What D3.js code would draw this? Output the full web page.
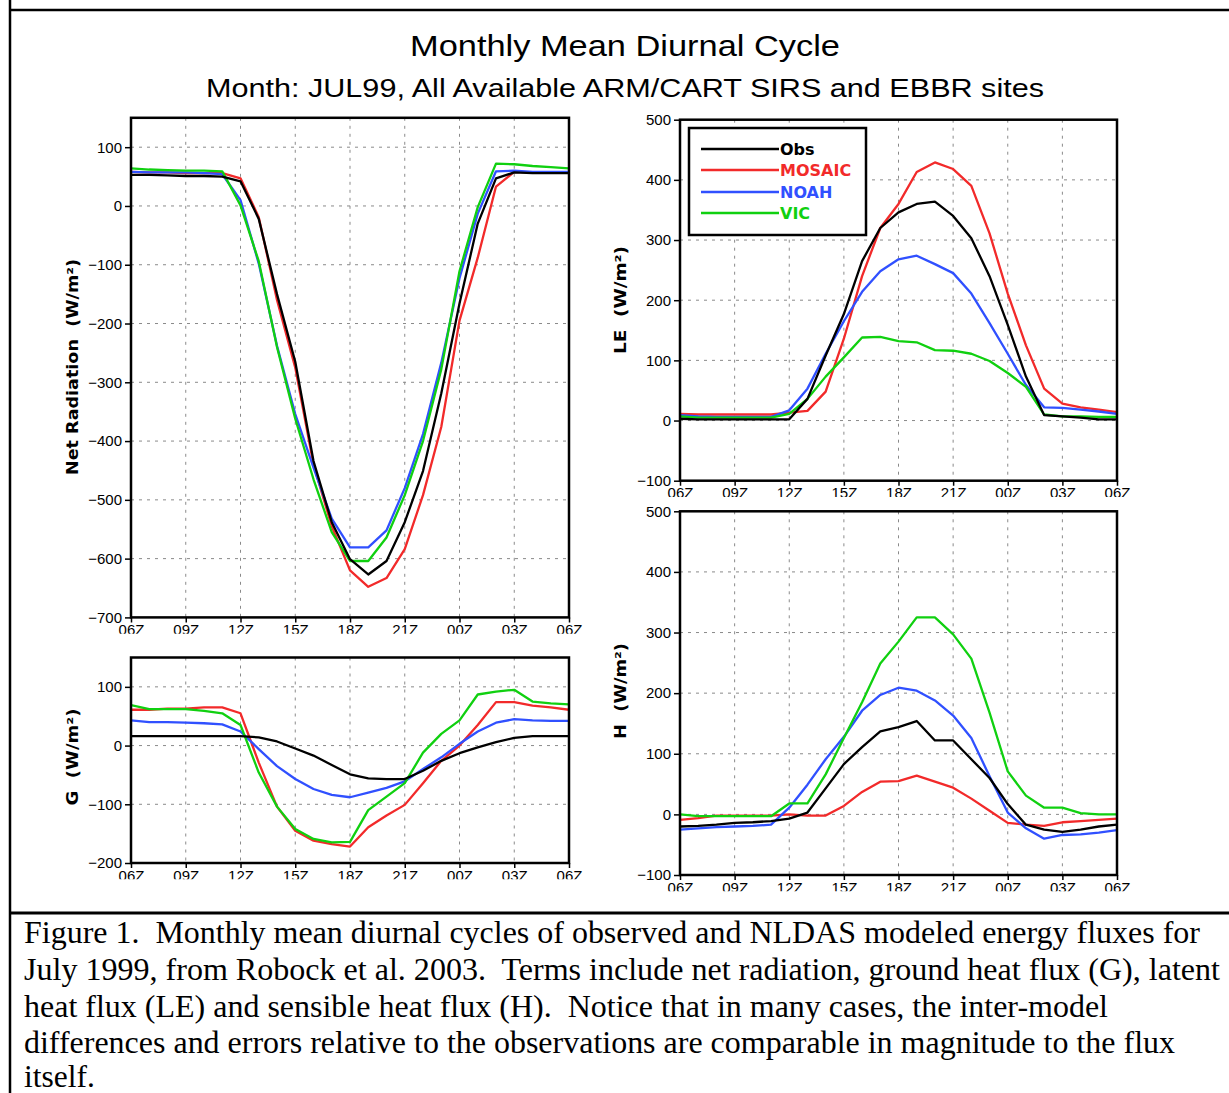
<!DOCTYPE html>
<html>
<head>
<meta charset="utf-8">
<script src="https://cdn.jsdelivr.net/npm/d3@7"></script>
<style>
  html, body { margin: 0; padding: 0; background: #fff; }
  svg { display: block; }
  text { white-space: pre; }
</style>
</head>
<body>
<script>
// ---------------- DATA ----------------
const hours = [6,7,8,9,10,11,12,13,14,15,16,17,18,19,20,21,22,23,24,25,26,27,28,29,30];
const timeTickHours = [6,9,12,15,18,21,24,27,30];
const timeTickLabels = ["06Z","09Z","12Z","15Z","18Z","21Z","00Z","03Z","06Z"];

const seriesNames = ["Obs","MOSAIC","NOAH","VIC"];
const seriesColors = ["#000000","#f22a2a","#3050ff","#10d010"];

const netTicks = [-700,-600,-500,-400,-300,-200,-100,0,100];
const gTicks = [-200,-100,0,100];
const fluxTicks = [-100,0,100,200,300,400,500];

// Net radiation (W/m2)
const netObs    = [53,53,52,51,51,50,42,-22,-150,-265,-434,-538,-601,-627,-604,-538,-451,-319,-166,-30,47,57,56,56,56];
const netMosaic = [58,57,57,56,56,56,47,-19,-160,-275,-440,-545,-620,-648,-633,-584,-492,-376,-195,-88,33,58,57,57,57];
const netNoah   = [58,57,57,57,56,54,10,-98,-238,-354,-445,-532,-581,-581,-552,-480,-388,-267,-123,-13,59,60,58,58,58];
const netVic    = [64,62,61,60,60,59,1,-94,-240,-362,-465,-555,-604,-604,-564,-492,-400,-278,-111,-2,72,71,68,66,64];

// Ground heat flux G (W/m2)
const gObs    = [16,16,16,16,16,16,16,14,7,-5,-17,-33,-49,-56,-57,-57,-43,-26,-13,-3,6,13,16,16,16];
const gMosaic = [61,61,63,63,65,65,55,-29,-104,-145,-162,-168,-172,-139,-119,-101,-64,-26,0,35,74,74,68,65,61];
const gNoah   = [43,40,40,39,38,36,24,-6,-35,-57,-74,-84,-88,-80,-72,-61,-40,-20,3,24,39,45,43,42,42];
const gVic    = [69,62,62,62,59,55,35,-46,-104,-142,-159,-165,-164,-110,-87,-64,-12,20,43,87,92,95,75,72,70];

// Latent heat flux LE (W/m2)
const leObs    = [3,2,2,2,2,2,2,36,108,177,265,320,346,360,364,340,303,240,159,73,9,7,5,2,2];
const leMosaic = [11,10,10,10,10,10,13,16,48,136,240,320,360,413,429,418,390,311,211,125,53,28,22,18,14];
const leNoah   = [9,7,6,6,6,6,17,53,111,165,214,248,268,274,260,245,211,162,111,59,22,21,18,15,11];
const leVic    = [7,5,5,5,5,5,11,36,73,105,138,139,132,130,117,116,111,99,79,56,10,7,7,6,6];

// Sensible heat flux H (W/m2)
const hObs    = [-20,-19,-17,-14,-13,-11,-7,3,43,83,111,137,144,154,122,122,91,60,17,-17,-25,-29,-25,-20,-17];
const hMosaic = [-9,-6,-2,-2,-2,-2,0,-2,-2,14,37,54,55,64,54,44,26,6,-14,-17,-19,-13,-11,-9,-7];
const hNoah   = [-25,-23,-21,-20,-19,-17,11,49,91,128,171,197,209,204,188,163,126,63,3,-23,-40,-34,-33,-30,-26];
const hVic    = [0,-3,-3,-3,-3,-3,18,18,66,126,185,249,285,325,325,297,257,168,71,31,11,11,2,0,0];

const titleText = "Monthly Mean Diurnal Cycle";
const subtitleText = "Month: JUL99, All Available ARM/CART SIRS and EBBR sites";
const captionLines = [
  "Figure 1.  Monthly mean diurnal cycles of observed and NLDAS modeled energy fluxes for",
  "July 1999, from Robock et al. 2003.  Terms include net radiation, ground heat flux (G), latent",
  "heat flux (LE) and sensible heat flux (H).  Notice that in many cases, the inter-model",
  "differences and errors relative to the observations are comparable in magnitude to the flux",
  "itself."
];

// ---------------- DRAW ----------------
const W = 1229, H = 1093;
const svg = d3.select("body").append("svg").attr("width", W).attr("height", H);
const defs = svg.append("defs");

// outer frame
svg.append("line").attr("x1",10).attr("y1",0).attr("x2",10).attr("y2",H).attr("stroke","#000").attr("stroke-width",2.5);
svg.append("line").attr("x1",10).attr("y1",10).attr("x2",W).attr("y2",10).attr("stroke","#000").attr("stroke-width",2.5);
svg.append("line").attr("x1",10).attr("y1",913).attr("x2",W).attr("y2",913).attr("stroke","#000").attr("stroke-width",3);

// titles
svg.append("text").attr("x",625).attr("y",56).attr("text-anchor","middle")
  .attr("font-family","Liberation Sans, Arial, sans-serif").attr("font-size",29)
  .attr("textLength",430).attr("lengthAdjust","spacingAndGlyphs").text(titleText);
svg.append("text").attr("x",625).attr("y",97).attr("text-anchor","middle")
  .attr("font-family","Liberation Sans, Arial, sans-serif").attr("font-size",25)
  .attr("textLength",838).attr("lengthAdjust","spacingAndGlyphs").text(subtitleText);

let clipId = 0;
function drawPanel(cfg) {
  const g = svg.append("g");
  const x = d3.scaleLinear().domain([6,30]).range([cfg.left, cfg.right]);
  const y = d3.scaleLinear().domain(cfg.domain).range([cfg.bottom, cfg.top]);

  const grid = g.append("g").attr("stroke","#8a8a8a").attr("stroke-width",1).attr("stroke-dasharray","3,5");
  cfg.ticks.forEach(t => {
    const yy = y(t);
    if (yy > cfg.top + 2 && yy < cfg.bottom - 2)
      grid.append("line").attr("x1",cfg.left).attr("x2",cfg.right).attr("y1",yy).attr("y2",yy);
  });
  timeTickHours.forEach(h => {
    const xx = x(h);
    if (xx > cfg.left + 2 && xx < cfg.right - 2)
      grid.append("line").attr("x1",xx).attr("x2",xx).attr("y1",cfg.top).attr("y2",cfg.bottom);
  });

  const cid = "pc" + (clipId++);
  defs.append("clipPath").attr("id",cid).append("rect")
    .attr("x",cfg.left).attr("y",cfg.top).attr("width",cfg.right-cfg.left).attr("height",cfg.bottom-cfg.top);

  const line = d3.line().x((d,i) => x(hours[i])).y(d => y(d));
  const lg = g.append("g").attr("clip-path","url(#"+cid+")");
  const order = [1,2,3,0];
  order.forEach(k => {
    lg.append("path").attr("d", line(cfg.series[k])).attr("fill","none")
      .attr("stroke", seriesColors[k]).attr("stroke-width",2.3).attr("stroke-linejoin","round");
  });

  // box
  g.append("rect").attr("x",cfg.left).attr("y",cfg.top).attr("width",cfg.right-cfg.left).attr("height",cfg.bottom-cfg.top)
    .attr("fill","none").attr("stroke","#000").attr("stroke-width",2.5);

  // y axis ticks
  const yAxis = d3.axisLeft(y).tickValues(cfg.ticks).tickSize(6).tickPadding(3)
    .tickFormat(d => d < 0 ? "\u2212" + Math.abs(d) : String(d));
  const ya = g.append("g").attr("transform","translate("+cfg.left+",0)").call(yAxis);
  ya.select(".domain").remove();
  ya.selectAll("line").attr("stroke","#000").attr("stroke-width",1.5);
  ya.selectAll("text").attr("font-family","Liberation Sans, Arial, sans-serif").attr("font-size",15).attr("fill","#000");

  // x axis ticks (labels cut at the bottom as in the original)
  const xcid = "xc" + (clipId++);
  defs.append("clipPath").attr("id",xcid).append("rect")
    .attr("x",cfg.left-40).attr("y",-10).attr("width",cfg.right-cfg.left+80).attr("height",26.3);
  const xAxis = d3.axisBottom(x).tickValues(timeTickHours).tickSize(5).tickPadding(2)
    .tickFormat((d,i) => timeTickLabels[i]);
  const xa = g.append("g").attr("transform","translate(0,"+cfg.bottom+")").call(xAxis);
  xa.attr("clip-path","url(#"+xcid+")");
  xa.select(".domain").remove();
  xa.selectAll("line").attr("stroke","#000").attr("stroke-width",1.5);
  xa.selectAll("text").attr("font-family","Liberation Sans, Arial, sans-serif").attr("font-size",15).attr("fill","#000");

  // y label
  svg.append("text").attr("transform","translate("+cfg.labelX+","+cfg.labelY+") rotate(-90)")
    .attr("text-anchor","middle").attr("font-family","DejaVu Sans, sans-serif").attr("font-weight","bold")
    .attr("font-size",16).attr("textLength",cfg.labelLen).attr("lengthAdjust","spacingAndGlyphs")
    .text(cfg.label);
  return {x, y};
}

drawPanel({left:131, right:569, top:117.8, bottom:617.4, domain:[-700,150], ticks:netTicks,
  series:[netObs,netMosaic,netNoah,netVic], label:"Net Radiation  (W/m\u00B2)", labelX:78, labelY:367, labelLen:216});
drawPanel({left:131, right:569, top:657.5, bottom:863, domain:[-200,150], ticks:gTicks,
  series:[gObs,gMosaic,gNoah,gVic], label:"G  (W/m\u00B2)", labelX:78, labelY:757, labelLen:97});
drawPanel({left:680, right:1117, top:119.7, bottom:480.7, domain:[-100,500], ticks:fluxTicks,
  series:[leObs,leMosaic,leNoah,leVic], label:"LE  (W/m\u00B2)", labelX:626, labelY:300, labelLen:108});
drawPanel({left:680, right:1117, top:511.3, bottom:875, domain:[-100,500], ticks:fluxTicks,
  series:[hObs,hMosaic,hNoah,hVic], label:"H  (W/m\u00B2)", labelX:626, labelY:691, labelLen:96});

// legend
const lg = svg.append("g");
lg.append("rect").attr("x",689).attr("y",128).attr("width",177).attr("height",107)
  .attr("fill","#fff").attr("stroke","#000").attr("stroke-width",2.5);
const legY = [149,170,192,213];
seriesNames.forEach((n,i) => {
  lg.append("line").attr("x1",701).attr("x2",779).attr("y1",legY[i]).attr("y2",legY[i])
    .attr("stroke",seriesColors[i]).attr("stroke-width",2.3);
  lg.append("text").attr("x",780).attr("y",legY[i]+6).attr("font-family","DejaVu Sans, sans-serif")
    .attr("font-weight","bold").attr("font-size",16).attr("fill",seriesColors[i]).text(n);
});

// caption
const capBase = [943,980,1017,1053,1087];
const capLen = [1176,1196,1084,1151,null];
captionLines.forEach((t,i) => {
  const tx = svg.append("text").attr("x",24).attr("y",capBase[i])
    .attr("font-family","Liberation Serif, 'Times New Roman', serif").attr("font-size",31.5)
    .attr("fill","#000").text(t);
  if (capLen[i]) tx.attr("textLength",capLen[i]).attr("lengthAdjust","spacingAndGlyphs");
});
</script>
</body>
</html>
